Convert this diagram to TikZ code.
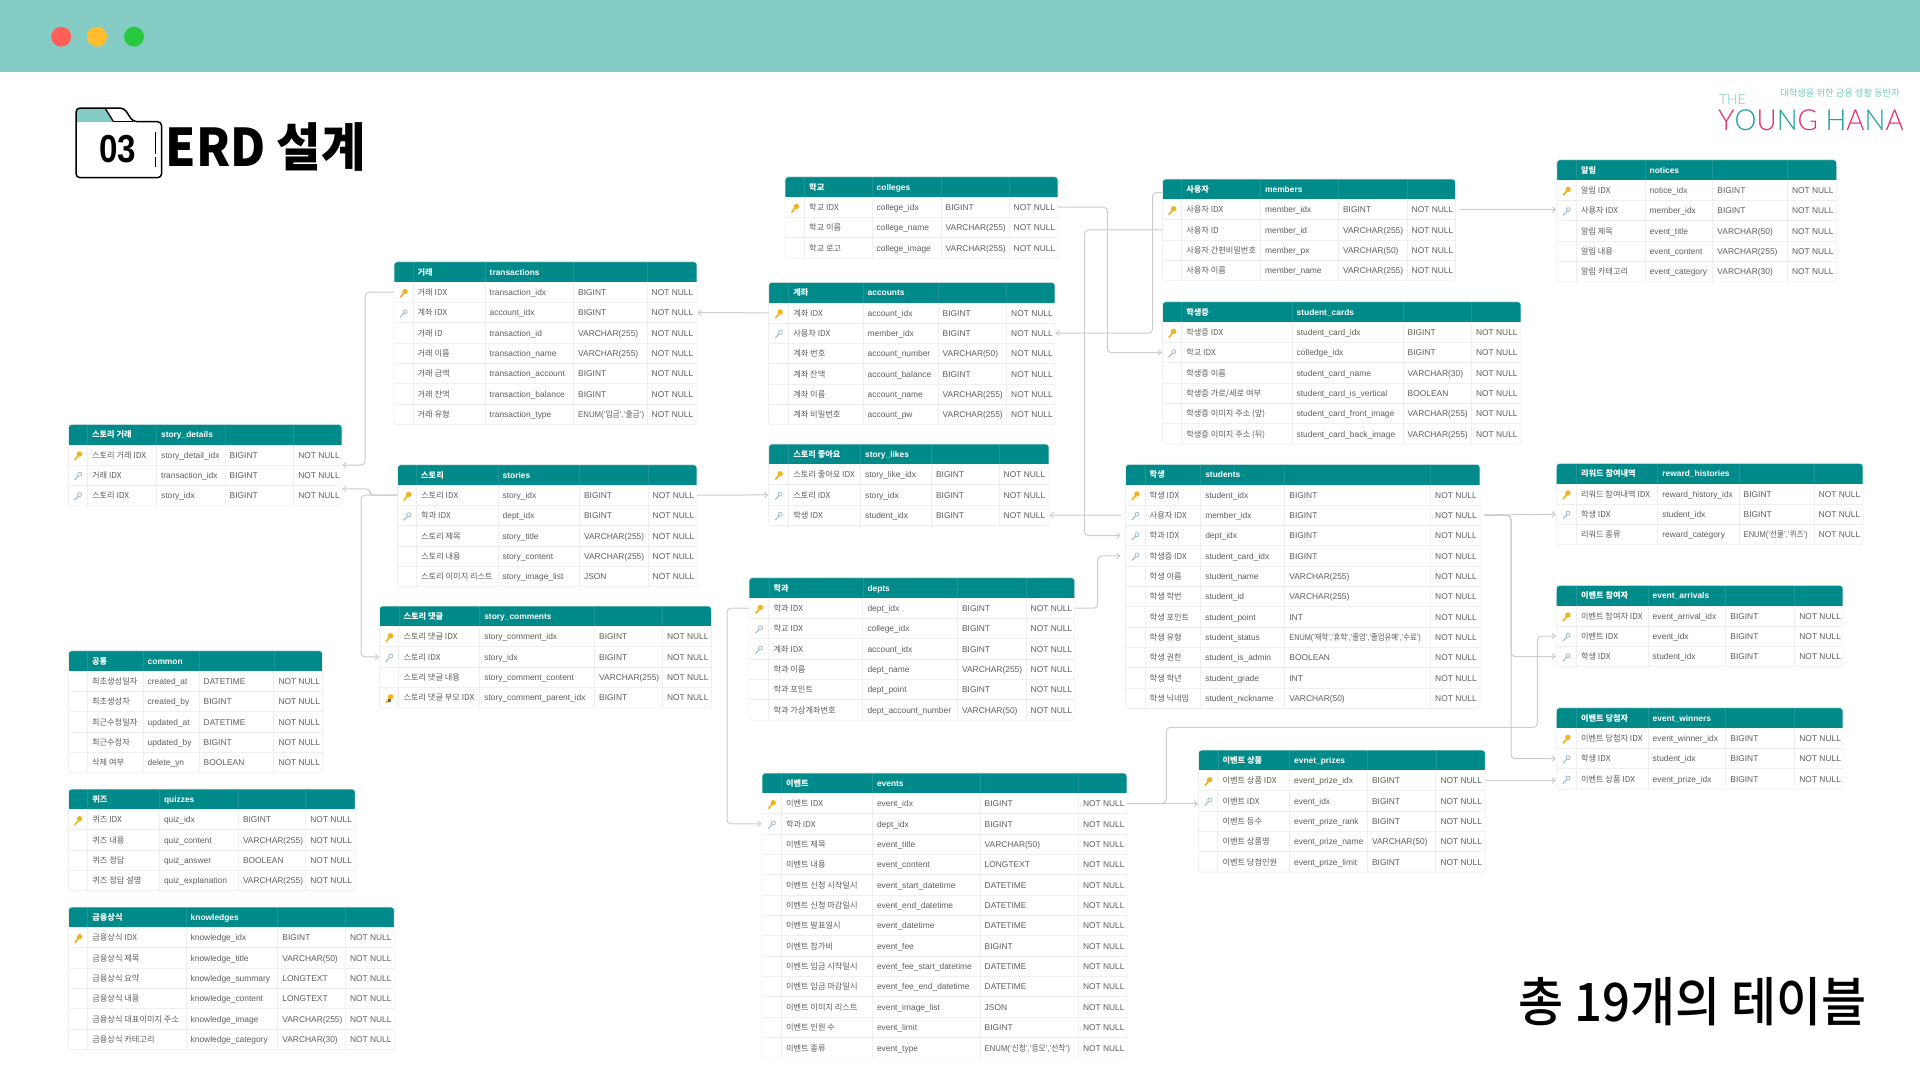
\documentclass[tikz,border=0pt]{standalone}
\usepackage{fontspec}
\usetikzlibrary{arrows.meta}
\setmainfont{Liberation Sans}
\newfontfamily\cjk{Noto Sans CJK KR}
\newfontfamily\cjkmed{Noto Sans CJK KR Medium}
\newfontfamily\logofont{Lato Light}

\definecolor{barteal}{HTML}{84CCC4}
\definecolor{dotred}{HTML}{FF5F57}
\definecolor{dotyellow}{HTML}{FFBD2E}
\definecolor{dotgreen}{HTML}{28C840}
\definecolor{headteal}{HTML}{008B8A}
\definecolor{headline}{HTML}{1A9796}
\definecolor{cellline}{HTML}{EEF0F0}
\definecolor{celltext}{HTML}{5A5D5E}
\definecolor{linkgray}{HTML}{C9CDCD}
\definecolor{keygold}{HTML}{F2B21F}
\definecolor{keyblue}{HTML}{9DB9C9}
\definecolor{logopink}{HTML}{E8276F}
\definecolor{logoteal}{HTML}{1B9E9A}

\tikzset{
    erdrow/.style={rectangle,inner sep=0pt,outer sep=0pt,minimum height=20.35pt,anchor=north west},
    cellko/.style={anchor=west,inner sep=0pt,text=celltext,font=\cjk\fontsize{8.2}{9}\selectfont,text height=6.4pt,text depth=1.8pt},
    cellen/.style={anchor=west,inner sep=0pt,text=celltext,font=\fontsize{8.4}{9}\selectfont,text height=6.4pt,text depth=1.8pt},
    headko/.style={cellko,text=white,font=\cjk\bfseries\fontsize{8.2}{9}\selectfont},
    headen/.style={cellen,text=white,font=\bfseries\fontsize{8.4}{9}\selectfont},
    erdlink/.style={draw=linkgray,line width=1pt,rounded corners=4pt,-{Straight Barb[length=3pt,width=5.5pt]},shorten >=0.5pt},
    gapend/.style={shorten >=5pt},
    gapstart/.style={shorten <=4pt},
}

\def\erdcols#1/#2/#3/#4/#5/#6\relax{\def\colL{#1}\def\colA{#2}\def\colB{#3}\def\colC{#4}\def\colD{#5}\def\colR{#6}}

% name, top, columns, korean title, table name, rows
\newcommand{\erdtable}[6]{
    \erdcols#3\relax
    \def\rowh{20.35}
    \foreach \rowkind/\rowko/\rowen/\rowty [count=\n] in {#6} {\xdef\nrows{\n}}
    \edef\tabbot{\fpeval{#2+(\nrows+1)*\rowh}}
    \edef\headbot{\fpeval{#2+\rowh}}

    \fill[headteal,rounded corners=3pt] (\colL,#2) rectangle (\colR,\fpeval{#2+12});
    \node[erdrow,fill=headteal,minimum width=\fpeval{\colR-\colL}pt,minimum height=14pt,anchor=south west] (#1-head) at (\colL,\headbot) {};
    \foreach \x in {\colA,\colB,\colC,\colD}
    {
        \draw[headline,line width=0.5pt] (\x,#2) -- (\x,\headbot);
        \draw[cellline,line width=0.8pt] (\x,\headbot) -- (\x,\tabbot);
    }
    \node[headko] (#1-ko) at (\fpeval{\colA+4.5},\fpeval{#2+\rowh/2+1}) {#4};
    \node[headen] (#1-en) at (\fpeval{\colB+4.5},\fpeval{#2+\rowh/2+1}) {#5};

    \foreach \rowkind/\rowko/\rowen/\rowty [count=\rownum] in {#6}
    {
        \edef\rowtop{\fpeval{#2+\rownum*\rowh}}
        \edef\rowmid{\fpeval{\rowtop+\rowh/2+1}}
        \node[erdrow,minimum width=\fpeval{\colR-\colL}pt] (#1-\rownum) at (\colL,\rowtop) {};
        \ifnum\rownum>1 \draw[cellline,line width=0.8pt] (\colL,\rowtop) -- (\colR,\rowtop); \fi
        \node[cellko] (#1-\rownum-ko) at (\fpeval{\colA+4.5},\rowmid) {\rowko};
        \node[cellen] (#1-\rownum-en) at (\fpeval{\colB+4.5},\rowmid) {\rowen};
        \node[cellen] (#1-\rownum-ty) at (\fpeval{\colC+4.5},\rowmid) {\rowty};
        \node[cellen] (#1-\rownum-nn) at (\fpeval{\colD+4.5},\rowmid) {NOT NULL};
        \edef\keyx{\fpeval{(\colL+\colA)/2}}
        \if\rowkind k \erdkey{\keyx}{\rowmid}{keygold}{keygold} \fi
        \if\rowkind f \erdfkey{\keyx}{\rowmid} \fi
        \if\rowkind c \erdkey{\keyx}{\rowmid}{keygold}{keygold}\fill[black!60] (\fpeval{\keyx-1},\fpeval{\rowmid+0.5}) rectangle ++(3,3); \fi
    }
    \draw[cellline,line width=0.8pt,rounded corners=3pt] (\colL,#2) rectangle (\colR,\tabbot);
}

\newcommand{\erdkey}[4]{
    \draw[#3,line width=1.7pt] (\fpeval{#1-3.2},\fpeval{#2+4.2}) -- (\fpeval{#1+1},\fpeval{#2-1});
    \fill[#4] (\fpeval{#1+1.6},\fpeval{#2-1.8}) circle (2.7pt);
}
\newcommand{\erdfkey}[2]{
    \draw[keyblue,line width=1pt] (\fpeval{#1-3.4},\fpeval{#2+3.8}) -- (\fpeval{#1+0.4},\fpeval{#2-0.4});
    \draw[keyblue,line width=0.8pt] (\fpeval{#1+1.7},\fpeval{#2-1.9}) circle (2pt);
}

\newcommand{\erdbus}[4][]{\draw[erdlink,#1] (#2) -- (#2 -| #3) -- (#4 -| #3) -- (#4);}

\begin{document}
\begin{tikzpicture}[x=1pt,y=-1pt]

\useasboundingbox (0,0) rectangle (1920,1080);

% window bar
\fill[barteal] (0,0) rectangle (1920,72.3);
\fill[dotred] (61.2,36.7) circle (10pt);
\fill[dotyellow] (97,36.7) circle (10pt);
\fill[dotgreen] (134,36.7) circle (10pt);

% title
\fill[barteal] (77,109) -- (105,109) -- (113.5,122) -- (77,122) -- cycle;
\draw[black,line width=1.5pt,rounded corners=4pt] (76,177.7) -- (76,108) -- (124,108) -- (133,121.7) -- (161.6,121.7) -- (161.6,177.7) -- cycle;
\draw[black,line width=1.3pt] (105,108) -- (113.5,121.7);
\draw[black,line width=1.3pt] (113.5,121.7) -- (133,121.7);
\draw[black,line width=1.5pt] (155.5,132) -- (155.5,154);
\draw[black,line width=1.5pt] (155.5,157) -- (155.5,167);
\node[inner sep=0pt,font=\bfseries\fontsize{39}{39}\selectfont] (foldernum) at (117.5,149) {\scalebox{0.85}[1]{03}};
\node[anchor=west,inner sep=0pt,font=\cjk\bfseries\fontsize{52}{52}\selectfont] (titletext) at (165.5,147) {\scalebox{0.93}[1]{ERD 설계}};

% logo
\node[anchor=west,inner sep=0pt,text=barteal!80!logoteal,font=\logofont\fontsize{14}{14}\selectfont] (logothe) at (1718.8,99.5) {THE};
\node[anchor=west,inner sep=0pt,font=\logofont\fontsize{29}{29}\selectfont] (logoname) at (1718,120) {\scalebox{0.955}[1]{\textcolor{logopink}{Y}\textcolor{logoteal}{O}\textcolor{logopink}{U}\textcolor{logoteal}{N}\textcolor{logopink}{G} \textcolor{logoteal}{H}\textcolor{logopink}{A}\textcolor{logoteal}{N}\textcolor{logopink}{A}}};
\node[anchor=east,inner sep=0pt,text=barteal!90!logoteal,font=\cjk\fontsize{9.3}{10}\selectfont] (logosub) at (1900,92.7) {대학생을 위한 금융 생활 동반자};

% left side
\erdtable{details}{424.3}{68.4/87.4/156.4/225/293.6/342}{스토리 거래}{story\_details}{
    k/스토리 거래 IDX/story\_detail\_idx/BIGINT,
    f/거래 IDX/transaction\_idx/BIGINT,
    f/스토리 IDX/story\_idx/BIGINT
}
\erdtable{common}{650.7}{68.4/87.4/143/199/273.8/322.6}{공통}{common}{
    n/최초생성일자/created\_at/DATETIME,
    n/최초생성자/created\_by/BIGINT,
    n/최근수정일자/updated\_at/DATETIME,
    n/최근수정자/updated\_by/BIGINT,
    n/삭제 여부/delete\_yn/BOOLEAN
}
\erdtable{quizzes}{789}{68.4/87.7/159.3/238.3/305.7/355.3}{퀴즈}{quizzes}{
    k/퀴즈 IDX/quiz\_idx/BIGINT,
    n/퀴즈 내용/quiz\_content/VARCHAR(255),
    n/퀴즈 정답/quiz\_answer/BOOLEAN,
    n/퀴즈 정답 설명/quiz\_explanation/VARCHAR(255)
}
\erdtable{knowledges}{907}{68.4/87.7/186/277.7/345.3/394.3}{금융상식}{knowledges}{
    k/금융상식 IDX/knowledge\_idx/BIGINT,
    n/금융상식 제목/knowledge\_title/VARCHAR(50),
    n/금융상식 요약/knowledge\_summary/LONGTEXT,
    n/금융상식 내용/knowledge\_content/LONGTEXT,
    n/금융상식 대표이미지 주소/knowledge\_image/VARCHAR(255),
    n/금융상식 카테고리/knowledge\_category/VARCHAR(30)
}
\erdtable{transactions}{261.7}{394/413/485/573.5/647/697}{거래}{transactions}{
    k/거래 IDX/transaction\_idx/BIGINT,
    f/계좌 IDX/account\_idx/BIGINT,
    n/거래 ID/transaction\_id/VARCHAR(255),
    n/거래 이름/transaction\_name/VARCHAR(255),
    n/거래 금액/transaction\_account/BIGINT,
    n/거래 잔액/transaction\_balance/BIGINT,
    n/거래 유형/transaction\_type/{\scalebox{0.93}[1]{ENUM('{\cjk 입금}','{\cjk 출금}')}}
}
\erdtable{stories}{464.7}{397.5/416.5/498/579.4/648/697}{스토리}{stories}{
    k/스토리 IDX/story\_idx/BIGINT,
    f/학과 IDX/dept\_idx/BIGINT,
    n/스토리 제목/story\_title/VARCHAR(255),
    n/스토리 내용/story\_content/VARCHAR(255),
    n/스토리 이미지 리스트/story\_image\_list/JSON
}
\erdtable{comments}{606}{379.4/398.8/479.6/594.5/662.3/711.5}{스토리 댓글}{story\_comments}{
    k/스토리 댓글 IDX/story\_comment\_idx/BIGINT,
    f/스토리 IDX/story\_idx/BIGINT,
    n/스토리 댓글 내용/story\_comment\_content/VARCHAR(255),
    c/스토리 댓글 부모 IDX/story\_comment\_parent\_idx/BIGINT
}

% middle
\erdtable{colleges}{176.7}{785/804.5/872/941/1009/1058}{학교}{colleges}{
    k/학교 IDX/college\_idx/BIGINT,
    n/학교 이름/college\_name/VARCHAR(255),
    n/학교 로고/college\_image/VARCHAR(255)
}
\erdtable{accounts}{282.3}{768.6/788.6/863/938/1006.5/1055}{계좌}{accounts}{
    k/계좌 IDX/account\_idx/BIGINT,
    f/사용자 IDX/member\_idx/BIGINT,
    n/계좌 번호/account\_number/VARCHAR(50),
    n/계좌 잔액/account\_balance/BIGINT,
    n/계좌 이름/account\_name/VARCHAR(255),
    n/계좌 비밀번호/account\_pw/VARCHAR(255)
}
\erdtable{likes}{444}{768.6/788.6/860.4/931.4/999/1049}{스토리 좋아요}{story\_likes}{
    k/스토리 좋아요 IDX/story\_like\_idx/BIGINT,
    f/스토리 IDX/story\_idx/BIGINT,
    f/학생 IDX/student\_idx/BIGINT
}
\erdtable{depts}{577.7}{749/768.8/862.8/957.4/1026/1074.8}{학과}{depts}{
    k/학과 IDX/dept\_idx/BIGINT,
    f/학교 IDX/college\_idx/BIGINT,
    f/계좌 IDX/account\_idx/BIGINT,
    n/학과 이름/dept\_name/VARCHAR(255),
    n/학과 포인트/dept\_point/BIGINT,
    n/학과 가상계좌번호/dept\_account\_number/VARCHAR(50)
}
\erdtable{events}{773}{762/781.3/872.3/980/1078.3/1127}{이벤트}{events}{
    k/이벤트 IDX/event\_idx/BIGINT,
    f/학과 IDX/dept\_idx/BIGINT,
    n/이벤트 제목/event\_title/VARCHAR(50),
    n/이벤트 내용/event\_content/LONGTEXT,
    n/이벤트 신청 시작일시/event\_start\_datetime/DATETIME,
    n/이벤트 신청 마감일시/event\_end\_datetime/DATETIME,
    n/이벤트 발표일시/event\_datetime/DATETIME,
    n/이벤트 참가비/event\_fee/BIGINT,
    n/이벤트 입금 시작일시/event\_fee\_start\_datetime/DATETIME,
    n/이벤트 입금 마감일시/event\_fee\_end\_datetime/DATETIME,
    n/이벤트 이미지 리스트/event\_image\_list/JSON,
    n/이벤트 인원 수/event\_limit/BIGINT,
    n/이벤트 종류/event\_type/{\scalebox{0.92}[1]{ENUM('{\cjk 신청}','{\cjk 응모}','{\cjk 선착}')}}
}

% right side
\erdtable{members}{179}{1162.4/1181.6/1260.4/1338.4/1407/1455.5}{사용자}{members}{
    k/사용자 IDX/member\_idx/BIGINT,
    n/사용자 ID/member\_id/VARCHAR(255),
    n/사용자 간편비밀번호/member\_px/VARCHAR(50),
    n/사용자 이름/member\_name/VARCHAR(255)
}
\erdtable{cards}{301.7}{1162.4/1181.6/1292/1403/1471.4/1521}{학생증}{student\_cards}{
    k/학생증 IDX/student\_card\_idx/BIGINT,
    f/학교 IDX/colledge\_idx/BIGINT,
    n/학생증 이름/student\_card\_name/VARCHAR(30),
    n/{학생증 가로/세로 여부}/student\_card\_is\_vertical/BOOLEAN,
    n/학생증 이미지 주소 (앞)/student\_card\_front\_image/VARCHAR(255),
    n/학생증 이미지 주소 (뒤)/student\_card\_back\_image/VARCHAR(255)
}
\erdtable{students}{464.3}{1125.5/1145/1200.6/1284.7/1430.5/1480}{학생}{students}{
    k/학생 IDX/student\_idx/BIGINT,
    f/사용자 IDX/member\_idx/BIGINT,
    f/학과 IDX/dept\_idx/BIGINT,
    f/학생증 IDX/student\_card\_idx/BIGINT,
    n/학생 이름/student\_name/VARCHAR(255),
    n/학생 학번/student\_id/VARCHAR(255),
    n/학생 포인트/student\_point/INT,
    n/학생 유형/student\_status/{\scalebox{0.87}[1]{ENUM('{\cjk 재학}','{\cjk 휴학}','{\cjk 졸업}','{\cjk 졸업유예}','{\cjk 수료}')}},
    n/학생 권한/student\_is\_admin/BOOLEAN,
    n/학생 학년/student\_grade/INT,
    n/학생 닉네임/student\_nickname/VARCHAR(50)
}
\erdtable{prizes}{750}{1198.4/1217.8/1289.5/1367.4/1435.8/1485.3}{이벤트 상품}{evnet\_prizes}{
    k/이벤트 상품 IDX/event\_prize\_idx/BIGINT,
    f/이벤트 IDX/event\_idx/BIGINT,
    n/이벤트 등수/event\_prize\_rank/BIGINT,
    n/이벤트 상품명/event\_prize\_name/VARCHAR(50),
    n/이벤트 당첨인원/event\_prize\_limit/BIGINT
}
\erdtable{notices}{159.7}{1556.7/1576.3/1645/1712.7/1787.3/1836.7}{알림}{notices}{
    k/알림 IDX/notice\_idx/BIGINT,
    f/사용자 IDX/member\_idx/BIGINT,
    n/알림 제목/event\_title/VARCHAR(50),
    n/알림 내용/event\_content/VARCHAR(255),
    n/알림 카테고리/event\_category/VARCHAR(30)
}
\erdtable{rewards}{463.3}{1556.3/1576.3/1657.7/1739/1814/1863}{리워드 참여내역}{reward\_histories}{
    k/리워드 참여내역 IDX/reward\_history\_idx/BIGINT,
    f/학생 IDX/student\_idx/BIGINT,
    n/리워드 종류/reward\_category/{\scalebox{0.9}[1]{ENUM('{\cjk 선물}','{\cjk 퀴즈}')}}
}
\erdtable{arrivals}{585.3}{1556.3/1576.3/1648/1725.7/1794.7/1843}{이벤트 참여자}{event\_arrivals}{
    k/이벤트 참여자 IDX/event\_arrival\_idx/BIGINT,
    f/이벤트 IDX/event\_idx/BIGINT,
    f/학생 IDX/student\_idx/BIGINT
}
\erdtable{winners}{707.7}{1556.3/1576.3/1648/1725.7/1794.7/1843}{이벤트 당첨자}{event\_winners}{
    k/이벤트 당첨자 IDX/event\_winner\_idx/BIGINT,
    f/학생 IDX/student\_idx/BIGINT,
    f/이벤트 상품 IDX/event\_prize\_idx/BIGINT
}

% connectors
\coordinate (busTrans) at (365,0);
\coordinate (busDetail) at (370,0);
\coordinate (busComment) at (361,0);
\coordinate (busDept) at (727,0);
\coordinate (busCard) at (1097.7,0);
\coordinate (busCollege) at (1107.3,0);
\coordinate (busMember) at (1084.5,0);
\coordinate (busAccount) at (1152.5,0);
\coordinate (busStudent) at (1511,0);
\coordinate (busEventA) at (1166.3,727.3);
\coordinate (busEventB) at (1537.3,727.3);
\coordinate (detailsEnd) at ([yshift=-3.5pt]details-3.north east);

\erdbus{transactions-1.west}{busTrans}{details-1.south east}
\erdbus{stories-1.west}{busDetail}{detailsEnd}
\erdbus{stories-1.west}{busComment}{comments-2.west}
\draw[erdlink] (stories-1.east) -- (likes-2.west);
\draw[erdlink] (accounts-1.west) -- (transactions-2.east);
\erdbus{depts-1.west}{busDept}{events-2.west}
\erdbus[gapend]{depts-1.east}{busCard}{students-4.west}
\erdbus{colleges-1.east}{busCollege}{cards-2.west}
\erdbus[gapend]{members-2.west}{busMember}{students-3.west}
\erdbus{members-head.west}{busAccount}{accounts-2.east}
\draw[erdlink,gapstart] (students-2.west) -- (likes-3.east);
\draw[erdlink,gapstart] (students-2.east) -- (rewards-2.west);
\erdbus[gapstart]{students-2.east}{busStudent}{arrivals-3.west}
\erdbus[gapstart]{students-2.east}{busStudent}{winners-2.west}
\draw[erdlink] (events-1.east) -- (events-1.east -| prizes-2.west);
\draw[erdlink] (events-1.east) -- (events-1.east -| busEventA) -- (busEventA) -- (busEventB) -- (busEventB |- arrivals-2.west) -- (arrivals-2.west);
\draw[erdlink] (prizes-1.east) -- (prizes-1.east -| winners-3.west);
\draw[erdlink,gapstart] (members-1.east) -- (members-1.east -| notices-2.west);

% footer
\node[anchor=east,inner sep=0pt,font=\cjkmed\fontsize{50}{50}\selectfont] (totaltext) at (1867,1002) {\scalebox{0.98}[1.06]{총 19개의 테이블}};

\end{tikzpicture}
\end{document}
